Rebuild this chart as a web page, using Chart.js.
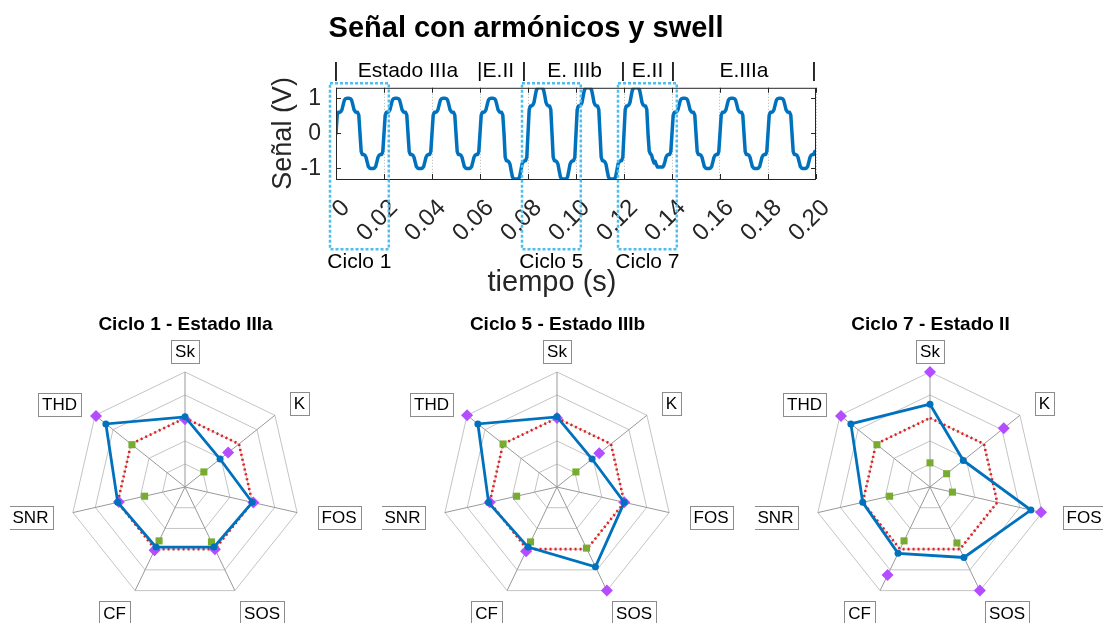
<!DOCTYPE html>
<html lang="es">
<head>
<meta charset="utf-8">
<title>Señal con armónicos y swell</title>
<script src="https://cdn.jsdelivr.net/npm/chart.js@4.4.0/dist/chart.umd.min.js"></script>
<style>
  html, body { margin: 0; background: #fff; }
  #lienzo { position: relative; width: 1103px; height: 623px; overflow: hidden; }
  canvas { position: absolute; }
</style>
</head>
<body>
<div id="lienzo">
  <canvas id="senal" width="680" height="300" style="left:236px; top:0"></canvas>
  <canvas id="radar1" width="352" height="313" style="left:10px; top:310px"></canvas>
  <canvas id="radar5" width="352" height="313" style="left:382px; top:310px"></canvas>
  <canvas id="radar7" width="352" height="313" style="left:755px; top:310px"></canvas>
</div>
<script>
// --- señal (V), 40 muestras por ciclo de 20 ms ---
const paso = 0.0005;
const senal = [
  0, .52, .6, .6, .62, .68, .82, .95, .99, 1, 1, 1, .99, .95, .82, .68, .62, .6, .6, .52, 0, -.52, -.6, -.6, -.62, -.68, -.82, -.95, -.99, -1, -1, -1, -.99, -.95, -.82, -.68, -.62, -.6, -.6, -.52,
  0, .52, .6, .6, .62, .68, .82, .95, .99, 1, 1, 1, .99, .95, .82, .68, .62, .6, .6, .52, 0, -.52, -.6, -.6, -.62, -.68, -.82, -.95, -.99, -1, -1, -1, -.99, -.95, -.82, -.68, -.62, -.6, -.6, -.52,
  0, .52, .6, .6, .62, .68, .82, .95, .99, 1, 1, 1, .99, .95, .82, .68, .62, .6, .6, .52, 0, -.52, -.6, -.6, -.62, -.68, -.82, -.95, -.99, -1, -1, -1, -.99, -.95, -.82, -.68, -.62, -.6, -.6, -.52,
  0, .52, .6, .6, .62, .68, .82, .95, .99, 1, 1, 1, .99, .95, .82, .68, .62, .6, .6, .52, 0, -.68, -.78, -.78, -.81, -.88, -1.07, -1.24, -1.29, -1.3, -1.3, -1.3, -1.29, -1.24, -1.07, -.88, -.81, -.78, -.78, -.68,
  0, .68, .78, .78, .81, .88, 1.07, 1.24, 1.29, 1.3, 1.3, 1.3, 1.29, 1.24, 1.07, .88, .81, .78, .78, .68, 0, -.68, -.78, -.78, -.81, -.88, -1.07, -1.24, -1.29, -1.3, -1.3, -1.3, -1.29, -1.24, -1.07, -.88, -.81, -.78, -.78, -.68,
  0, .68, .78, .78, .81, .88, 1.07, 1.24, 1.29, 1.3, 1.3, 1.3, 1.29, 1.24, 1.07, .88, .81, .78, .78, .68, 0, -.68, -.78, -.78, -.81, -.88, -1.07, -1.24, -1.29, -1.3, -1.3, -1.3, -1.29, -1.24, -1.07, -.88, -.81, -.78, -.78, -.68,
  0, .68, .78, .78, .81, .88, 1.07, 1.24, 1.29, 1.3, 1.3, 1.3, 1.29, 1.24, 1.07, .88, .81, .78, .78, .68, 0, -.5, -.58, -.62, -.75, -.84, -.8, -.9, -.96, -.96, -.96, -.96, -.96, -.93, -.82, -.68, -.62, -.6, -.6, -.52,
  0, .52, .6, .6, .62, .68, .82, .95, .99, 1, 1, 1, .99, .95, .82, .68, .62, .6, .6, .52, 0, -.52, -.6, -.6, -.62, -.68, -.82, -.95, -.99, -1, -1, -1, -.99, -.95, -.82, -.68, -.62, -.6, -.6, -.52,
  0, .52, .6, .6, .62, .68, .82, .95, .99, 1, 1, 1, .99, .95, .82, .68, .62, .6, .6, .52, 0, -.52, -.6, -.6, -.62, -.68, -.82, -.95, -.99, -1, -1, -1, -.99, -.95, -.82, -.68, -.62, -.6, -.6, -.52,
  0, .52, .6, .6, .62, .68, .82, .95, .99, 1, 1, 1, .99, .95, .82, .68, .62, .6, .6, .52, 0, -.52, -.6, -.6, -.62, -.68, -.82, -.95, -.99, -1, -1, -1, -.99, -.95, -.82, -.68, -.62, -.6, -.6, -.52
];

// anotaciones de estado sobre la señal (tiempo en s)
const estadoTexto = ['|', 'Estado IIIa', '|E.II', '|', 'E. IIIb', '|', 'E.II', '|', 'E.IIIa', '|'];
const estadoPos = [0, 0.03, 0.0665, 0.0783, 0.0994, 0.1196, 0.1298, 0.1404, 0.17, 0.1992];
const ciclos = ['Ciclo 1', 'Ciclo 5', 'Ciclo 7'];
const cicloInicio = [0, 0.08, 0.12];

// --- radares (valores normalizados 0..1) ---
const ejes = ['Sk', 'K', 'FOS', 'SOS', 'CF', 'SNR', 'THD'];
const titulos = ['Ciclo 1 - Estado IIIa', 'Ciclo 5 - Estado IIIb', 'Ciclo 7 - Estado II'];
const referencia = [0.6, 0.6, 0.6, 0.6, 0.6, 0.6, 0.6];
const ciclo1 = [0.61, 0.39, 0.6, 0.58, 0.58, 0.6, 0.88];
const ciclo5 = [0.61, 0.39, 0.6, 0.77, 0.58, 0.61, 0.88];
const ciclo7 = [0.72, 0.37, 0.9, 0.68, 0.64, 0.6, 0.88];
const minimos1 = [null, 0.21, null, 0.53, 0.52, 0.36, 0.59];
const minimos5 = [null, 0.21, null, 0.59, 0.53, 0.36, 0.6];
const minimos7 = [0.21, 0.185, 0.2, 0.54, 0.52, 0.36, 0.59];
const maximos1 = [0.59, 0.48, 0.61, 0.6, 0.61, 0.59, 0.99];
const maximos5 = [0.6, 0.47, 0.6, 1.0, 0.62, 0.6, 1.0];
const maximos7 = [1.0, 0.82, 0.99, 1.0, 0.85, null, 0.99];

const fuente = '"Liberation Sans", Arial, sans-serif';
Chart.defaults.font.family = fuente;
Chart.defaults.color = '#262626';

// marco, marcas interiores, estados y recuadros de ciclos
const marcoSenal = {
  id: 'marcoSenal',
  afterDraw(chart) {
    const {ctx, chartArea: a, scales: {x, y}} = chart;
    ctx.save();
    ctx.strokeStyle = '#262626'; ctx.lineWidth = 1;
    ctx.strokeRect(a.left + .5, a.top + .5, a.right - a.left - 1, a.bottom - a.top);
    ctx.beginPath();
    x.ticks.forEach(t => {
      const px = Math.round(x.getPixelForValue(t.value)) + .5;
      ctx.moveTo(px, a.bottom); ctx.lineTo(px, a.bottom - 5);
      ctx.moveTo(px, a.top); ctx.lineTo(px, a.top + 5);
    });
    y.ticks.forEach(t => {
      const py = Math.round(y.getPixelForValue(t.value)) + .5;
      ctx.moveTo(a.left, py); ctx.lineTo(a.left + 5, py);
      ctx.moveTo(a.right, py); ctx.lineTo(a.right - 5, py);
    });
    ctx.stroke();

    ctx.fillStyle = '#000'; ctx.textAlign = 'center';
    ctx.font = '21px ' + fuente; ctx.textBaseline = 'alphabetic';
    estadoTexto.forEach((s, i) => ctx.fillText(s, x.getPixelForValue(estadoPos[i]), a.top - 11));

    ctx.strokeStyle = '#4DBEEE'; ctx.lineWidth = 2.5; ctx.setLineDash([3, 2]);
    ctx.textBaseline = 'middle';
    ciclos.forEach((c, i) => {
      const x0 = x.getPixelForValue(cicloInicio[i] - 0.0025), x1 = x.getPixelForValue(cicloInicio[i] + 0.022);
      const y0 = y.getPixelForValue(1.43), y1 = y.getPixelForValue(-3.3);
      ctx.strokeRect(x0, y0, x1 - x0, y1 - y0);
      ctx.fillText(c, (x0 + x1) / 2, y.getPixelForValue(-3.67));
    });
    ctx.setLineDash([]);
    ctx.font = '29px ' + fuente; ctx.fillStyle = '#262626';
    ctx.fillText('tiempo (s)', x.getPixelForValue(0.09), a.bottom + 104);
    ctx.restore();
  }
};

new Chart(document.getElementById('senal'), {
  type: 'line',
  data: {datasets: [{
    data: senal.map((v, i) => ({x: i * paso, y: v})),
    borderColor: '#0072BD', borderWidth: 3.5, pointRadius: 0, tension: 0,
    borderJoinStyle: 'round', borderCapStyle: 'round'
  }]},
  options: {
    responsive: false, animation: false, events: [],
    layout: {padding: {left: 0, right: 100, top: 0, bottom: 0}},
    plugins: {
      legend: {display: false}, tooltip: {enabled: false},
      title: {display: true, text: 'Señal con armónicos y swell', color: '#000',
        font: {size: 29, weight: 'bold'}, padding: {top: 12, bottom: 41}}
    },
    scales: {
      x: {
        type: 'linear', min: 0, max: 0.2,
        afterFit: s => { s.height = 121; },
        grid: {color: '#b4b4b4', drawTicks: false, borderDash: [1, 2]},
        border: {display: false, dash: [1, 2]},
        ticks: {stepSize: 0.02, autoSkip: false, minRotation: 45, maxRotation: 45, padding: 15, labelOffset: 10,
          font: {size: 24}, callback: v => v === 0 ? '0' : v.toFixed(2)}
      },
      y: {
        min: -1.3, max: 1.3,
        afterFit: s => { s.width = 100; },
        grid: {display: false}, border: {display: false},
        ticks: {stepSize: 1, includeBounds: false, padding: 7, font: {size: 23}},
        title: {display: true, text: 'Señal (V)', font: {size: 27}, padding: {top: 31}}
      }
    }
  },
  plugins: [marcoSenal]
});

// etiquetas de ejes en recuadro
const separacion = [9, 19, 21, 12, 12, 21, 18];
const etiquetasCaja = {
  id: 'etiquetasCaja',
  afterDraw(chart) {
    const r = chart.scales.r, ctx = chart.ctx;
    ctx.save();
    ctx.font = '17px ' + fuente;
    ejes.forEach((txt, i) => {
      const p = r.getPointPosition(i, r.drawingArea + separacion[i]);
      const dx = p.x - r.xCenter, dy = p.y - r.yCenter, d = Math.hypot(dx, dy);
      const w = ctx.measureText(txt).width + 8, h = 23;
      const bx = dx > 2 ? p.x : dx < -2 ? p.x - w : p.x - w / 2;
      const by = dy / d < -0.9 ? p.y - h : dy / d > 0.8 ? p.y : p.y - h / 2;
      ctx.fillStyle = '#fff'; ctx.fillRect(bx, by, w, h);
      ctx.strokeStyle = '#8c8c8c'; ctx.lineWidth = 1;
      ctx.strokeRect(Math.round(bx) + .5, Math.round(by) + .5, Math.round(w), h);
      ctx.fillStyle = '#000'; ctx.textAlign = 'center'; ctx.textBaseline = 'middle';
      ctx.fillText(txt, bx + w / 2, by + h / 2 + 1);
    });
    ctx.restore();
  }
};

function radar(id, titulo, valores, minimos, maximos){
  new Chart(document.getElementById(id), {
    type: 'radar',
    data: {labels: ejes, datasets: [
      {data: valores, borderColor: '#0072BD', backgroundColor: '#0072BD', borderWidth: 2.8, fill: false,
        pointRadius: 3.5, pointBackgroundColor: '#0072BD', pointBorderWidth: 0},
      {data: minimos, showLine: false, fill: false, pointStyle: 'rect', pointRadius: 5,
        pointBackgroundColor: '#77AC30', pointBorderWidth: 0},
      {data: maximos, showLine: false, fill: false, pointStyle: 'rectRot', pointRadius: 6,
        pointBackgroundColor: '#B44CFF', pointBorderWidth: 0},
      {data: referencia, borderColor: '#E02020', borderWidth: 2.6, borderDash: [2, 3], fill: false, pointRadius: 0}
    ]},
    options: {
      responsive: false, animation: false, events: [],
      layout: {padding: {left: 60, right: 61, top: 0, bottom: 20}},
      plugins: {
        legend: {display: false}, tooltip: {enabled: false},
        title: {display: true, text: titulo, color: '#000', font: {size: 19, weight: 'bold'}, padding: {top: 3, bottom: 36}}
      },
      scales: {r: {
        min: 0, max: 1, startAngle: 0,
        ticks: {display: false, stepSize: 0.2},
        grid: {color: '#c4c4c4', lineWidth: 1},
        angleLines: {color: '#999999', lineWidth: 1},
        pointLabels: {display: false}
      }}
    },
    plugins: [etiquetasCaja]
  });
}

radar('radar1', titulos[0], ciclo1, minimos1, maximos1);
radar('radar5', titulos[1], ciclo5, minimos5, maximos5);
radar('radar7', titulos[2], ciclo7, minimos7, maximos7);
</script>
</body>
</html>
